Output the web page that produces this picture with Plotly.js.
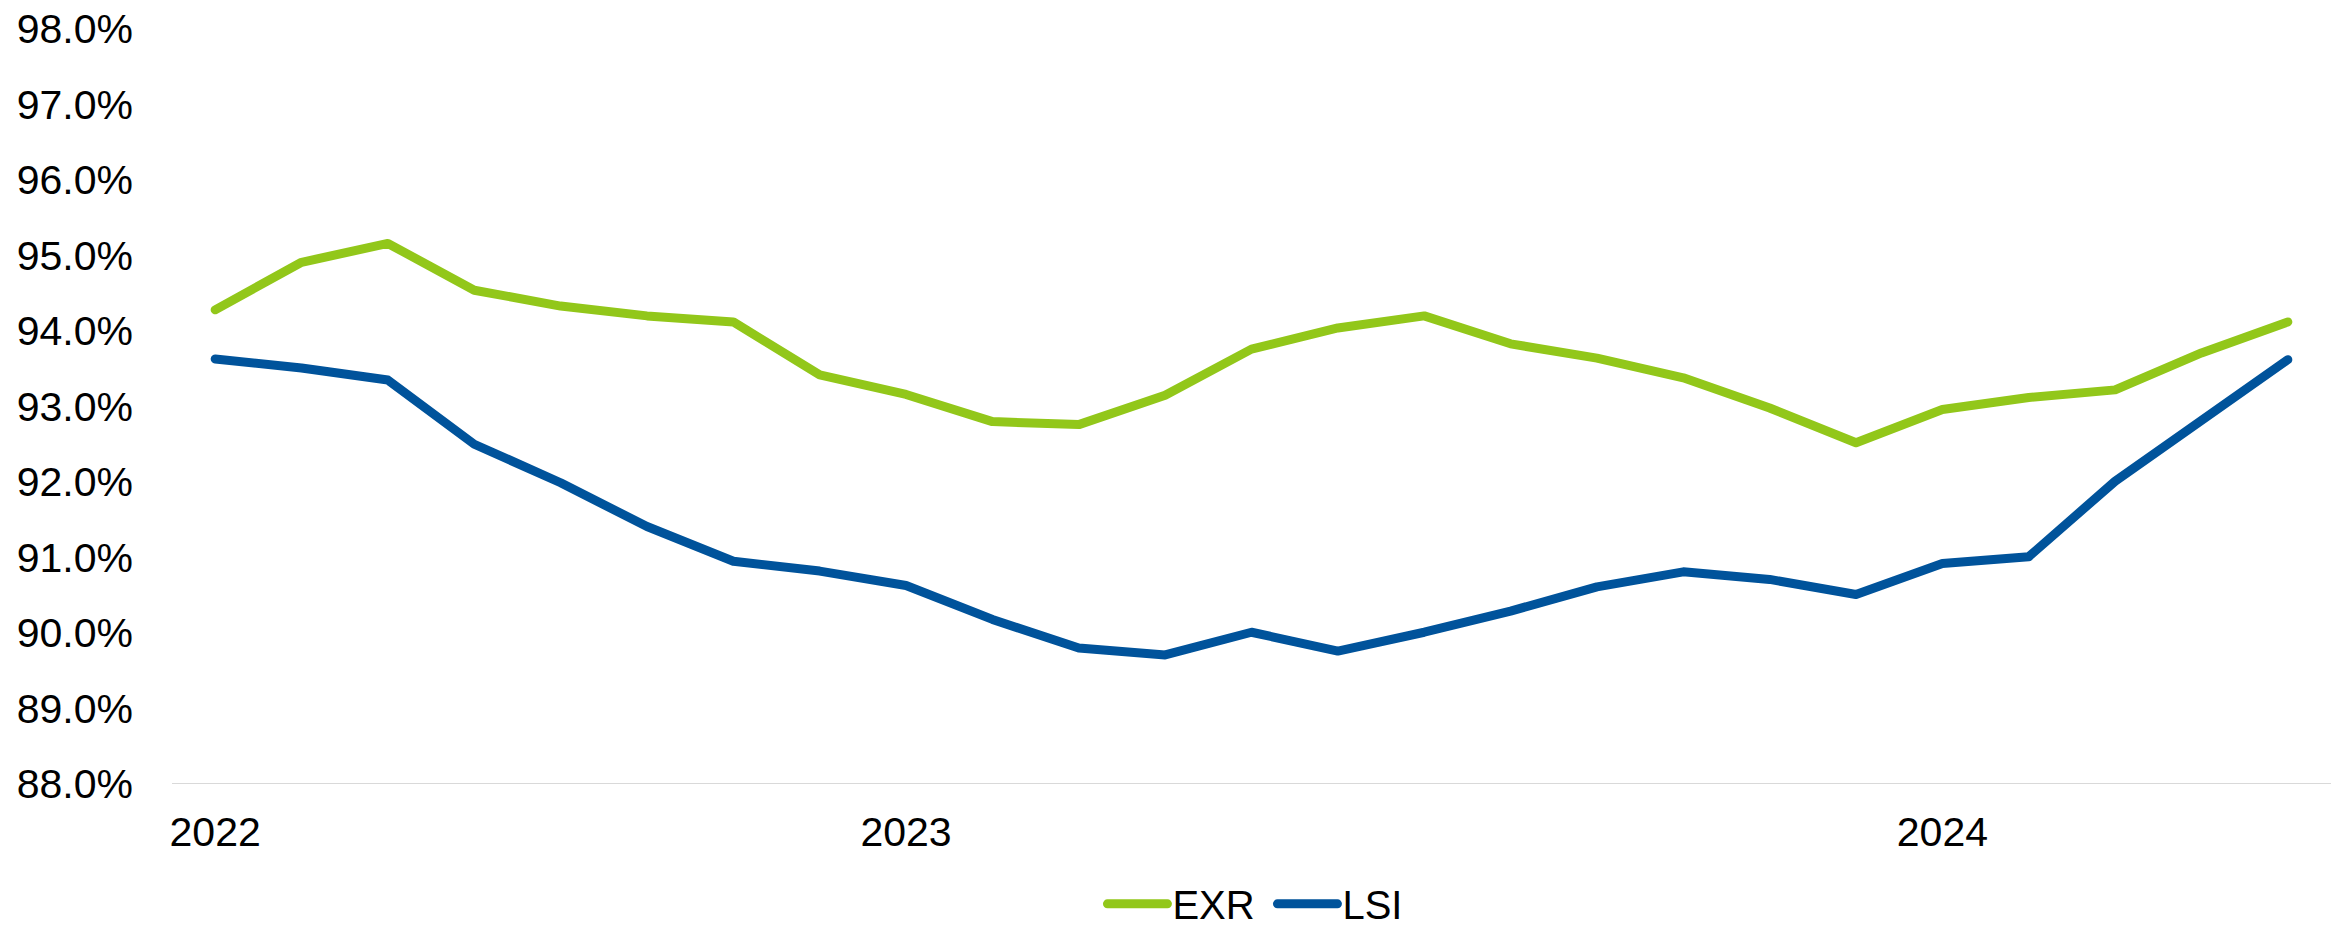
<!DOCTYPE html>
<html>
<head>
<meta charset="utf-8">
<script src="https://cdn.plot.ly/plotly-3.0.1.min.js"></script>
<style>
  html, body { margin: 0; padding: 0; background: #ffffff; }
  #chart { width: 2348px; height: 928px; }
</style>
</head>
<body>
<div id="chart"></div>
<script>
// Monthly observations (May 2022 - May 2024)
const months = [
  "2022-05","2022-06","2022-07","2022-08","2022-09","2022-10","2022-11","2022-12",
  "2023-01","2023-02","2023-03","2023-04","2023-05","2023-06","2023-07","2023-08",
  "2023-09","2023-10","2023-11","2023-12",
  "2024-01","2024-02","2024-03","2024-04","2024-05"
];
const exrValues = [94.28, 94.91, 95.16, 94.54, 94.33, 94.20, 94.12, 93.42, 93.16, 92.80, 92.76, 93.15, 93.76,
                   94.04, 94.20, 93.83, 93.64, 93.38, 92.98, 92.52, 92.96, 93.12, 93.22, 93.71, 94.12];
const lsiValues = [93.63, 93.51, 93.35, 92.50, 91.99, 91.41, 90.95, 90.82, 90.63, 90.18, 89.80, 89.71, 90.01,
                   89.76, 90.01, 90.29, 90.61, 90.81, 90.71, 90.51, 90.92, 91.01, 92.01, 92.82, 93.62];
const tickPositions = ["2022-05", "2023-01", "2024-01"];
const tickLabels = ["2022", "2023", "2024"];
const yTicks = [88, 89, 90, 91, 92, 93, 94, 95, 96, 97, 98];
const yTickLabels = ["88.0%","89.0%","90.0%","91.0%","92.0%","93.0%","94.0%","95.0%","96.0%","97.0%","98.0%"];

const FONT = "'Liberation Sans', Arial, sans-serif";

const traces = [
  { x: months, y: exrValues, name: "EXR", type: "scatter", mode: "lines",
    line: { color: "#92C71A", width: 9 }, hoverinfo: "skip" },
  { x: months, y: lsiValues, name: "LSI", type: "scatter", mode: "lines",
    line: { color: "#00539B", width: 9 }, hoverinfo: "skip" }
];

const layout = {
  width: 2348, height: 928,
  paper_bgcolor: "#ffffff", plot_bgcolor: "#ffffff",
  margin: { l: 172, r: 17, t: 29, b: 143.5, autoexpand: false },
  font: { family: FONT, size: 41, color: "#000000" },
  showlegend: true,
  legend: {
    orientation: "h", xref: "paper", x: 0.5097, xanchor: "center",
    yref: "container", y: 0.026, yanchor: "middle",
    font: { family: FONT, size: 40, color: "#000000" },
    itemwidth: 60, entrywidth: 95, entrywidthmode: "pixels",
    tracegroupgap: 0, bgcolor: "rgba(0,0,0,0)"
  },
  xaxis: {
    type: "category",
    range: [-0.5, 24.5],
    automargin: false,
    tickmode: "array", tickvals: tickPositions, ticktext: tickLabels,
    showgrid: false, zeroline: false,
    showline: false, ticks: "",
    ticklabelstandoff: 20,
    tickfont: { family: FONT, size: 41, color: "#000000" },
    fixedrange: true
  },
  yaxis: {
    range: [88, 98],
    automargin: false,
    tickmode: "array", tickvals: yTicks, ticktext: yTickLabels,
    showgrid: false, zeroline: false, showline: false, ticks: "",
    ticklabelstandoff: 38,
    tickfont: { family: FONT, size: 41, color: "#000000" },
    fixedrange: true
  },
  shapes: [
    { type: "line", xref: "paper", yref: "y", x0: 0, x1: 1, y0: 88, y1: 88,
      line: { color: "#D9D9D9", width: 2 }, layer: "below" }
  ]
};

Plotly.newPlot("chart", traces, layout, { displayModeBar: false, staticPlot: true }).then(function (gd) {
  gd.querySelectorAll(".scatterlayer .js-line").forEach(function (p) {
    p.style.strokeLinecap = "round";
    p.style.strokeLinejoin = "round";
  });
  gd.querySelectorAll(".legend .js-line").forEach(function (p) {
    p.style.strokeLinecap = "round";
  });
});
</script>
</body>
</html>
